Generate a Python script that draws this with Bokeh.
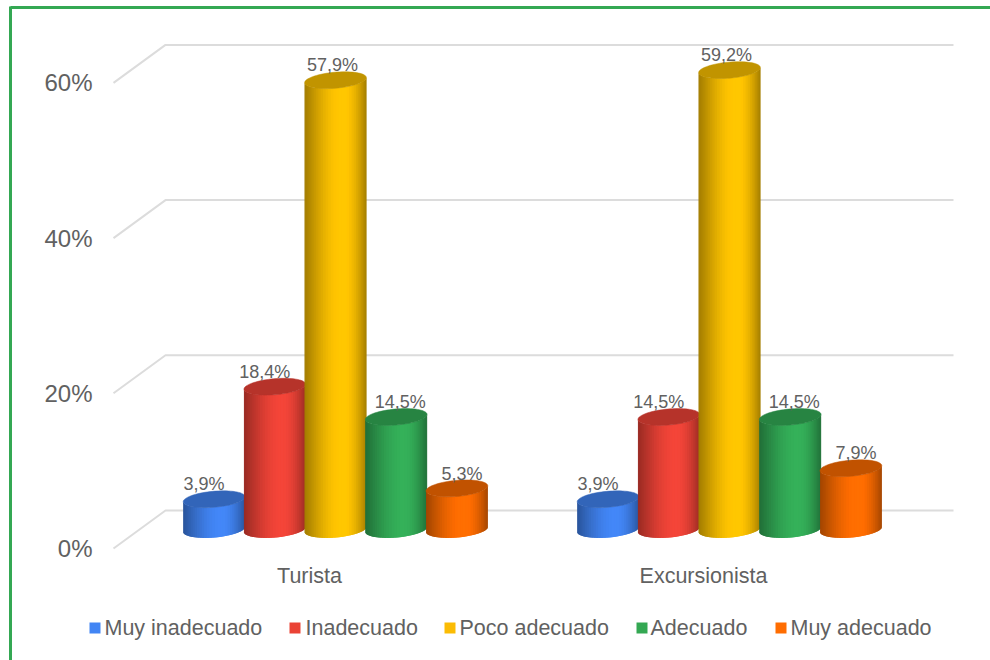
import numpy as np
from bokeh.plotting import figure
from bokeh.models import ColumnDataSource, Range1d
from bokeh.core.properties import value
from bokeh.embed import file_html
from bokeh.resources import INLINE

categories = ["Turista", "Excursionista"]
series_names = ["Muy inadecuado", "Inadecuado", "Poco adecuado", "Adecuado", "Muy adecuado"]
turista = [3.9, 18.4, 57.9, 14.5, 5.3]
excursionista = [3.9, 14.5, 59.2, 14.5, 7.9]
ticks = [0, 20, 40, 60]
tick_labels = ["0%", "20%", "40%", "60%"]
colors = ["#4285F4", "#F04438", "#FFC400", "#34AE58", "#FF6D01"]
legend_colors = ["#4285F4", "#EA4335", "#FBBC04", "#34A853", "#FF6D01"]

# layout, in reference-pixel units
PX = 7.76            # pixels per percentage point
BASE = 529           # screen row of value 0 at the centre of a bar's foot
W, H = 990, 660
def row(s):
    return (BASE - s) / PX

p = figure(width=W, height=H, output_backend="svg", toolbar_location=None,
           x_range=Range1d(0, W), y_range=Range1d(row(H), row(0)),
           min_border=0, outline_line_color=None)
p.axis.visible = False
p.grid.visible = False
p.background_fill_color = "#FFFFFF"

GRID_FRONT, GRID_BACK, GRID_END, DEPTH = 113, 165, 953, 2.45
for t in ticks:
    p.line([GRID_FRONT, GRID_BACK, GRID_END], [t - DEPTH, t + DEPTH, t + DEPTH],
           line_color="#DCDCDC", line_width=2)

# frame
FRAME = "#34A853"
p.line([10, 10], [row(H), row(6)], line_color=FRAME, line_width=3)
p.line([10, W], [row(7), row(7)], line_color=FRAME, line_width=3)

GROUP_X = [335, 729]
STEP = 60.7
A, B, TILT, N = 31.0, 8.0, np.radians(5), 36

def ell(cx, t):
    x = A * np.cos(t)
    y = B * np.sin(t)
    return cx + x * np.cos(TILT) - y * np.sin(TILT), (x * np.sin(TILT) + y * np.cos(TILT)) / PX

def shade(c, f):
    rgb = [min(255, int(int(c[i:i + 2], 16) * f)) for i in (1, 3, 5)]
    return "#%02x%02x%02x" % tuple(rgb)

label_dx = [-10, -10, -3, 4, 5]
LABEL_DY = 1.9
vals = [turista, excursionista]
lx, ly, lt = [], [], []
for g, gx in enumerate(GROUP_X):
    for i, v in enumerate(vals[g]):
        cx = gx + (i - 2) * STEP
        ts = np.linspace(np.pi, 2 * np.pi, N + 1)
        xs, ys, fc = [], [], []
        for k in range(N):
            x0, y0 = ell(cx, ts[k])
            x1, y1 = ell(cx, ts[min(k + 2, N)])
            xs.append([x0, x1, x1, x0])
            ys.append([y0, y1, y1 + v, y0 + v])
            u = (x0 - (cx - A)) / (2 * A)
            f = 0.64 + 0.38 * np.sin(np.pi * u / 1.2) if u < 0.6 else 0.64 + 0.38 * np.sin(np.pi * (0.5 + (u - 0.6) / 0.8))
            fc.append(shade(colors[i], f))
        src = ColumnDataSource(dict(xs=xs, ys=ys, fc=fc))
        p.patches("xs", "ys", source=src, fill_color="fc", line_color=None)
        tt = np.linspace(0, 2 * np.pi, 72)
        ex, ey = ell(cx, tt)
        p.patch(ex, ey + v, fill_color=shade(colors[i], 0.76), line_color=shade(colors[i], 0.76), line_width=0.5)
        lx.append(cx + label_dx[i])
        ly.append(v + LABEL_DY)
        lt.append(f"{v:.1f}%".replace(".", ","))

FONT = value("Liberation Sans")
TXT = "#616161"
p.text(lx, ly, text=lt, text_font=FONT, text_font_size="18px", text_color=TXT,
       text_align="center", text_baseline="middle")

p.text([92] * 4, [t - DEPTH for t in ticks], text=tick_labels, text_font=FONT, text_font_size="24px",
       text_color=TXT, text_align="right", text_baseline="middle")

CAT_X = [309, 703]
p.text(CAT_X, [row(575)] * 2, text=categories, text_font=FONT, text_font_size="21.5px", text_color=TXT,
       text_align="center", text_baseline="middle")

SQ_X = [94.5, 294.5, 449.5, 641.5, 780.5]
TX_X = [104, 305, 459, 650, 790]
p.scatter(SQ_X, [row(627.5)] * 5, marker="square", size=11, fill_color=legend_colors, line_color=None)
p.text(TX_X, [row(627)] * 5, text=series_names, text_font=FONT, text_font_size="21.5px", text_color=TXT,
       text_align="left", text_baseline="middle")

open("out.html", "w").write(file_html(p, INLINE))
